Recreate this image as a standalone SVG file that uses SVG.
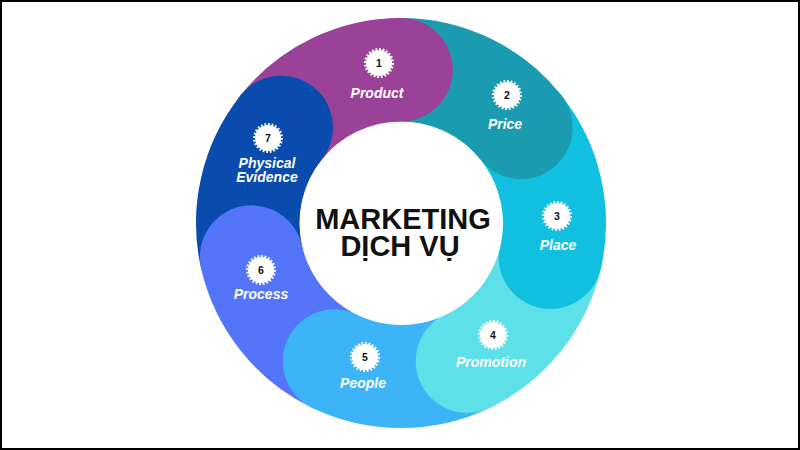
<svg xmlns="http://www.w3.org/2000/svg" width="800" height="450" viewBox="0 0 800 450">
  <style>
    .band { fill: none; stroke-width: 103.5; stroke-linecap: butt; }
    .badge { fill: #ffffff; }
    .badge-edge { fill: none; stroke: #ffffff; stroke-width: 3; stroke-dasharray: 1 1; }
    .num { font-family: "Liberation Sans", Arial, sans-serif; font-weight: 700; font-size: 10.5px; fill: #111111; text-anchor: middle; }
    .lbl { font-family: "Liberation Sans", Arial, sans-serif; font-weight: 700; font-style: italic; font-size: 14px; fill: #ffffff; text-anchor: middle; }
    .title { font-family: "Liberation Sans", Arial, sans-serif; font-weight: 700; font-size: 29px; fill: #111111; text-anchor: middle; }
  </style>
  <rect x="1" y="1" width="798" height="448" fill="#ffffff" stroke="#000000" stroke-width="2"/>

  <!-- ring segments (draw order handles the overlapping rounded ends) -->
  <g id="ring">
    <path id="band-product" class="band" stroke="#9a4297" d="M281.19,127.45 A153.25,153.25 0 0 1 401,69.75"/>
    <g id="seg-physical">
      <path class="band" stroke="#0a4bae" d="M251.60,257.10 A153.25,153.25 0 0 1 281.19,127.45"/>
      <circle cx="281.19" cy="127.45" r="51.75" fill="#0a4bae"/>
    </g>
    <g id="seg-process">
      <path class="band" stroke="#5474f9" d="M334.51,361.08 A153.25,153.25 0 0 1 251.60,257.10"/>
      <circle cx="251.60" cy="257.10" r="51.75" fill="#5474f9"/>
    </g>
    <g id="seg-people">
      <path class="band" stroke="#3db4f8" d="M467.49,361.08 A153.25,153.25 0 0 1 334.51,361.08"/>
      <circle cx="334.51" cy="361.08" r="51.75" fill="#3db4f8"/>
    </g>
    <g id="seg-promotion">
      <path class="band" stroke="#5ee0e8" d="M550.40,257.10 A153.25,153.25 0 0 1 467.49,361.08"/>
      <circle cx="467.49" cy="361.08" r="51.75" fill="#5ee0e8"/>
    </g>
    <g id="seg-place">
      <path class="band" stroke="#11bfdf" d="M520.81,127.45 A153.25,153.25 0 0 1 550.40,257.10"/>
      <circle cx="550.40" cy="257.10" r="51.75" fill="#11bfdf"/>
    </g>
    <g id="seg-price">
      <path class="band" stroke="#1b9baf" d="M401,69.75 A153.25,153.25 0 0 1 520.81,127.45"/>
      <circle cx="520.81" cy="127.45" r="51.75" fill="#1b9baf"/>
    </g>
    <circle id="cap-product" cx="401" cy="69.75" r="51.75" fill="#9a4297"/>
  </g>

  <g id="center">
    <circle cx="401.5" cy="223.5" r="101.5" fill="#ffffff"/>
    <text class="title" x="403" y="229">MARKETING</text>
    <text class="title" x="400" y="256">DỊCH VỤ</text>
  </g>

  <g id="node-1">
    <circle class="badge" cx="379" cy="63" r="13"/>
    <circle class="badge-edge" cx="379" cy="63" r="13.5" pathLength="48"/>
    <text class="num" x="379" y="66.8">1</text>
    <text class="lbl" x="377" y="98">Product</text>
  </g>
  <g id="node-2">
    <circle class="badge" cx="507" cy="95" r="13"/>
    <circle class="badge-edge" cx="507" cy="95" r="13.5" pathLength="48"/>
    <text class="num" x="507" y="98.8">2</text>
    <text class="lbl" x="505" y="129">Price</text>
  </g>
  <g id="node-3">
    <circle class="badge" cx="557" cy="216" r="13"/>
    <circle class="badge-edge" cx="557" cy="216" r="13.5" pathLength="48"/>
    <text class="num" x="557" y="219.8">3</text>
    <text class="lbl" x="558" y="250">Place</text>
  </g>
  <g id="node-4">
    <circle class="badge" cx="493" cy="335" r="13"/>
    <circle class="badge-edge" cx="493" cy="335" r="13.5" pathLength="48"/>
    <text class="num" x="493" y="338.8">4</text>
    <text class="lbl" x="491" y="367">Promotion</text>
  </g>
  <g id="node-5">
    <circle class="badge" cx="365" cy="357" r="13"/>
    <circle class="badge-edge" cx="365" cy="357" r="13.5" pathLength="48"/>
    <text class="num" x="365" y="360.8">5</text>
    <text class="lbl" x="363" y="388">People</text>
  </g>
  <g id="node-6">
    <circle class="badge" cx="261" cy="270" r="13"/>
    <circle class="badge-edge" cx="261" cy="270" r="13.5" pathLength="48"/>
    <text class="num" x="261" y="273.8">6</text>
    <text class="lbl" x="261" y="299">Process</text>
  </g>
  <g id="node-7">
    <circle class="badge" cx="268" cy="138" r="13"/>
    <circle class="badge-edge" cx="268" cy="138" r="13.5" pathLength="48"/>
    <text class="num" x="268" y="141.8">7</text>
    <text class="lbl" x="267" y="168">Physical</text>
    <text class="lbl" x="267" y="182">Evidence</text>
  </g>

  <g id="connectors"/>
</svg>
